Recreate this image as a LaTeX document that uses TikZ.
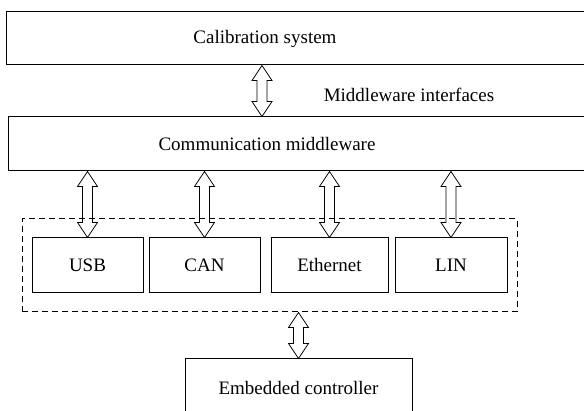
\documentclass[tikz,border=0pt]{standalone}
\usepackage{fontspec}
\setmainfont{Liberation Serif}
\usepackage{tikz}
\usetikzlibrary{positioning,fit,calc}

\begin{document}
\begin{tikzpicture}[x=1pt,y=1pt,
		box/.style={rectangle, draw, line width=1pt, align=center, font=\fontsize{19}{23}\selectfont},
		bus/.style={draw, line width=0.8pt, line join=miter,
			to path={let \p1=(\tikztostart), \p2=(\tikztotarget) in
				(\x1,\y1) -- (\x1+10pt,\y1-15pt) -- (\x1+5pt,\y1-15pt) -- (\x1+5pt,\y2+15pt) -- (\x1+10pt,\y2+15pt)
				-- (\x1,\y2) -- (\x1-10pt,\y2+15pt) -- (\x1-5pt,\y2+15pt) -- (\x1-5pt,\y1-15pt) -- (\x1-10pt,\y1-15pt) -- cycle}}]
				\clip (0,0) rectangle (584,410);
				\node[box, minimum width=594pt, minimum height=53pt] (calib) at (303,371.5) {Calibration system\hspace*{76pt}};
				\node[box, minimum width=592pt, minimum height=54pt] (comm) at (304,266) {Communication middleware\hspace*{74pt}};
				\node[font=\fontsize{19}{23}\selectfont] (mwi) at (409,315) {Middleware interfaces};
				\node[box, minimum width=111pt, minimum height=55pt] (usb) at (87.5,144.5) {USB};
				\node[box, minimum width=111pt, minimum height=55pt] (can) at (204.5,144.5) {CAN};
				\node[box, minimum width=117pt, minimum height=55pt] (eth) at (329.5,144.5) {Ethernet};
				\node[box, minimum width=112pt, minimum height=55pt] (lin) at (451,144.5) {LIN};
				\node[draw, line width=1pt, dash pattern=on 6pt off 4pt, inner xsep=9.5pt, inner ysep=18.5pt, fit=(usb)(lin)] (grp) {};
				\node[box, minimum width=227pt, minimum height=58pt] (ctrl) at (298.5,22) {Embedded controller};
				\draw[bus] ([xshift=-41pt]calib.south) to ([xshift=-41pt]calib.south |- comm.north);
				\draw[bus] (comm.south -| usb) to (usb.north);
				\draw[bus] (comm.south -| can) to (can.north);
				\draw[bus] (comm.south -| eth) to (eth.north);
				\draw[bus] (comm.south -| lin) to (lin.north);
				\draw[bus] (grp.south -| ctrl) to (ctrl.north);
			\end{tikzpicture}
\end{document}
